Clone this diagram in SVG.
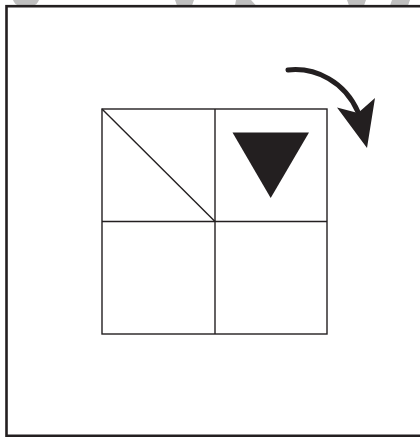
<svg xmlns="http://www.w3.org/2000/svg" width="420" height="437" viewBox="0 0 420 437">
<style>
.frame{fill:none;stroke:#231f20;stroke-width:2.6}
.grid{fill:none;stroke:#231f20;stroke-width:1.4}
.blob{fill:#bfbfbf}
</style>
<rect width="420" height="437" fill="#fff"/>
<g id="top-marks">
<path class="blob" d="M13,0 L39,0 Q37,5 33,5.5 L19,5.5 Q15,5 13,0 Z"/>
<path class="blob" d="M175,0 L194,0 L192,5.5 L177,5.5 Z"/>
<path class="blob" d="M236,0 L251,0 L256,5.5 L235,5.5 Z"/>
<path class="blob" d="M347,0 L366,0 L364,5.5 L349,5.5 Z"/>
<path class="blob" d="M392,0 L410,0 L408,5.5 L390,5.5 Z"/>
</g>
<g id="frame">
<rect class="frame" x="6.5" y="6.2" width="430" height="429.6"/>
</g>
<g id="grid">
<rect class="grid" x="102" y="109" width="225" height="225"/>
<line class="grid" x1="215" y1="109" x2="215" y2="334"/>
<line class="grid" x1="102" y1="221.5" x2="327" y2="221.5"/>
<line class="grid" x1="102" y1="109" x2="215" y2="221.5" stroke-width="1.2"/>
</g>
<g id="triangle">
<polygon points="232.5,132.5 309,132.5 270.7,198" fill="#231f20"/>
</g>
<g id="connectors">
<path d="M288,70 C316,67 345,82 358,112" fill="none" stroke="#231f20" stroke-width="5" stroke-linecap="round"/>
<polygon points="337,107.5 358,113 375,98 367,148" fill="#231f20"/>
</g>
</svg>
